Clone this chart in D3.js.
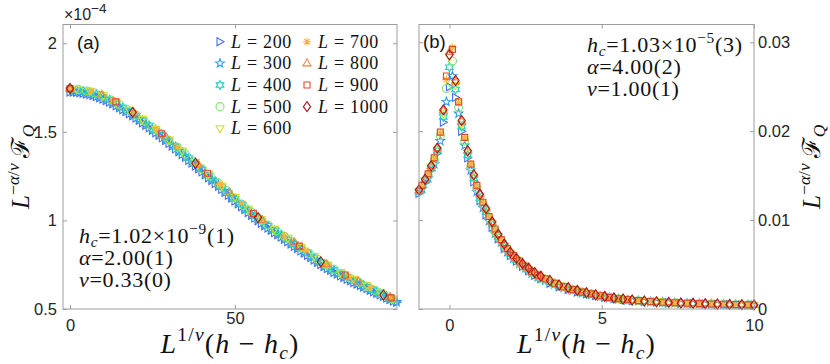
<!DOCTYPE html>
<html>
<head>
<meta charset="utf-8">
<script src="https://cdn.jsdelivr.net/npm/d3@7"></script>
<style>
  body { margin: 0; background: #fff; }
  svg { display: block; }
</style>
</head>
<body>
<svg id="chart" width="830" height="364"></svg>
<script>
// ---- data ----
const Ls = [200, 300, 400, 500, 600, 700, 800, 900, 1000];
const colors = ["#4a6ee8", "#2f9ff3", "#1ecfbe", "#7fe36e", "#d2dd2e", "#f6b43a", "#f5813f", "#de4a2c", "#a3161c"];
const markers = ["triRight", "pentagram", "hexagram", "circle", "triDown", "asterisk", "triUp", "square", "diamond"];

// panel (a): L^{-a/v} F_Q in units of 1e-4
const xa200 = [0,1,2,3,4,5,6,7,8,9,10,11,12,13,14,15,16,17,18,19,20,21,22,23,24,25,26,27,28,29,30,31,32,33,34,35,36,37,38,39,40,41,42,43,44,45,46,47,48,49,50,51,52,53,54,55,56,57,58,59,60,61,62,63,64,65,66,67,68,69,70,71,72,73,74,75,76,77,78,79,80,81,82,83,84,85,86,87,88,89,90,91,92,93,94,95,96,97,98,99];
const ya200 = [1.725,1.724,1.723,1.721,1.718,1.714,1.710,1.705,1.699,1.692,1.685,1.677,1.668,1.658,1.647,1.636,1.625,1.614,1.602,1.590,1.578,1.565,1.551,1.537,1.523,1.509,1.495,1.481,1.466,1.451,1.435,1.420,1.404,1.388,1.372,1.356,1.340,1.324,1.307,1.291,1.274,1.258,1.241,1.225,1.208,1.192,1.175,1.159,1.142,1.126,1.110,1.094,1.077,1.061,1.045,1.029,1.013,0.998,0.984,0.970,0.957,0.944,0.931,0.919,0.906,0.893,0.880,0.867,0.854,0.841,0.828,0.816,0.803,0.790,0.777,0.764,0.751,0.740,0.729,0.718,0.707,0.697,0.687,0.677,0.668,0.659,0.650,0.641,0.633,0.624,0.615,0.606,0.597,0.588,0.580,0.571,0.562,0.553,0.545,0.538];
const xa300 = [1,3,5,7,9,11,13,15,17,19,21,23,25,27,29,31,33,35,37,39,41,43,45,47,49,51,53,55,57,59,61,63,65,67,69,71,73,75,77,79,81,83,85,87,89,91,93,95,97,99];
const ya300 = [1.731,1.728,1.721,1.712,1.699,1.684,1.665,1.643,1.621,1.597,1.572,1.544,1.516,1.488,1.458,1.427,1.395,1.363,1.331,1.298,1.265,1.232,1.199,1.166,1.133,1.101,1.068,1.036,1.005,0.977,0.951,0.926,0.900,0.874,0.848,0.823,0.797,0.771,0.747,0.725,0.703,0.684,0.665,0.647,0.630,0.611,0.592,0.574,0.556,0.540];
const xa400 = [0,2,4,6,8,10,12,14,16,18,20,22,24,26,28,30,32,34,36,38,40,42,44,46,48,50,52,54,56,58,60,62,64,66,68,70,72,74,76,78,80,82,84,86,88,90,92,94,96,98];
const ya400 = [1.738,1.736,1.731,1.723,1.712,1.698,1.681,1.660,1.638,1.615,1.591,1.564,1.536,1.508,1.479,1.448,1.417,1.385,1.353,1.320,1.287,1.254,1.221,1.188,1.155,1.123,1.090,1.058,1.026,0.997,0.970,0.944,0.919,0.893,0.867,0.841,0.816,0.790,0.764,0.742,0.720,0.699,0.680,0.662,0.644,0.625,0.606,0.589,0.570,0.552];
const xa500 = [0,2.5,5,7.5,10,12.5,15,17.5,20,22.5,25,27.5,30,32.5,35,37.5,40,42.5,45,47.5,50,52.5,55,57.5,60,62.5,65,67.5,70,72.5,75,77.5,80,82.5,85,87.5,90,92.5,95,97.5];
const ya500 = [1.742,1.739,1.731,1.719,1.702,1.680,1.653,1.625,1.595,1.561,1.526,1.490,1.452,1.413,1.373,1.332,1.291,1.250,1.209,1.168,1.127,1.086,1.046,1.008,0.974,0.942,0.910,0.878,0.845,0.814,0.781,0.752,0.724,0.698,0.674,0.652,0.628,0.605,0.582,0.559];
const xa600 = [2,6,10,14,18,22,26,30,34,38,42,46,50,54,58,62,66,70,74,78,82,86,90,94,98];
const ya600 = [1.745,1.732,1.707,1.669,1.624,1.573,1.517,1.457,1.394,1.329,1.263,1.197,1.132,1.067,1.006,0.953,0.902,0.850,0.799,0.751,0.708,0.670,0.633,0.596,0.559];
const xa700 = [0,6.5,13,19.5,26,32.5,39,45.5,52,58.5,65,71.5,78,84.5,91,97.5];
const ya700 = [1.745,1.728,1.678,1.604,1.515,1.416,1.311,1.203,1.097,0.997,0.913,0.830,0.749,0.681,0.622,0.562];
const xa800 = [0,9.7,19.4,29.1,38.8,48.5,58.2,67.9,77.6,87.3,97];
const ya800 = [1.746,1.708,1.606,1.471,1.315,1.155,1.002,0.876,0.754,0.656,0.567];
const xa900 = [0,13.9,27.8,41.7,55.6,69.5,83.4,97.3];
const ya900 = [1.744,1.669,1.489,1.266,1.040,0.855,0.692,0.563];
const xa1000 = [0,19,38,57,76,95];
const ya1000 = [1.745,1.610,1.323,1.016,0.767,0.579];

// panel (b)
const xbEven = [-1,-0.8,-0.6,-0.4,-0.2,0,0.2,0.4,0.6,0.8,1,1.2,1.4,1.6,1.8,2,2.2,2.4,2.6,2.8,3,3.3,3.6,3.9,4.2,4.5,4.8,5.1,5.4,5.7,6,6.4,6.8,7.2,7.6,8,8.4,8.8,9.2,9.6,10];
const xbOdd = [-0.9,-0.7,-0.5,-0.3,-0.1,0.1,0.3,0.5,0.7,0.9,1.1,1.3,1.5,1.7,1.9,2.1,2.3,2.5,2.7,2.9,3.15,3.45,3.75,4.05,4.35,4.65,4.95,5.25,5.55,5.85,6.2,6.6,7,7.4,7.8,8.2,8.6,9,9.4,9.8];
const yb200 = [0.0130,0.0142,0.0156,0.0175,0.0210,0.0250,0.0238,0.0200,0.0170,0.0143,0.0122,0.0106,0.0092,0.0079,0.0068,0.0060,0.0054,0.0048,0.0043,0.0038,0.0034,0.0029,0.0025,0.0022,0.0019,0.0017,0.0015,0.00132,0.00117,0.00105,0.00095,0.00085,0.00077,0.00070,0.00065,0.00061,0.00057,0.00053,0.00050,0.00047,0.00044];
const yb300 = [0.0135,0.0147,0.0163,0.0189,0.0233,0.0262,0.0220,0.0184,0.0156,0.0132,0.0114,0.0099,0.0085,0.0075,0.0064,0.0057,0.0051,0.0046,0.0040,0.0036,0.0032,0.0028,0.0024,0.0021,0.0018,0.0016,0.0014,0.00125,0.00111,0.0010,0.0009,0.0008,0.00073,0.00067,0.00063,0.00059,0.00055,0.00051,0.00048,0.00045];
const yb400 = [0.0132,0.0144,0.0158,0.0178,0.0216,0.0272,0.0247,0.0205,0.0173,0.0147,0.0125,0.0109,0.0095,0.0081,0.0070,0.0062,0.0055,0.0050,0.0044,0.0039,0.0035,0.0030,0.0026,0.0023,0.0020,0.00175,0.00155,0.00137,0.00121,0.00108,0.00098,0.00087,0.00079,0.00072,0.00066,0.00062,0.00058,0.00054,0.00051,0.00048,0.00045];
const yb500 = [0.0138,0.0150,0.0167,0.0195,0.0248,0.0279,0.0227,0.0189,0.0160,0.0136,0.0118,0.0102,0.0087,0.0077,0.0066,0.0059,0.0052,0.0047,0.0041,0.0037,0.0033,0.0029,0.0025,0.0022,0.0019,0.0017,0.00146,0.0013,0.00115,0.00104,0.00093,0.00083,0.00075,0.00069,0.00064,0.0006,0.00056,0.00052,0.00049,0.00046];
const yb600 = [0.0133,0.0145,0.0159,0.0179,0.0220,0.0284,0.0252,0.0208,0.0176,0.0149,0.0127,0.0111,0.0096,0.0082,0.0071,0.0063,0.0056,0.0050,0.0045,0.0040,0.0036,0.0031,0.0027,0.0023,0.00205,0.0018,0.00157,0.0014,0.00123,0.0011,0.0010,0.00089,0.0008,0.00073,0.00067,0.00063,0.00059,0.00055,0.00051,0.00048,0.00045];
const yb700 = [0.0139,0.0152,0.0169,0.0198,0.0258,0.0294,0.0232,0.0192,0.0163,0.0138,0.0120,0.0104,0.0089,0.0078,0.0067,0.0060,0.0053,0.0048,0.0042,0.0038,0.0034,0.0029,0.0025,0.0022,0.0019,0.0017,0.00148,0.00131,0.00116,0.00105,0.00094,0.00084,0.00076,0.0007,0.00065,0.00061,0.00057,0.00053,0.0005,0.00046];
const yb800 = [0.0134,0.0146,0.0161,0.0181,0.0223,0.0289,0.0256,0.0211,0.0178,0.0151,0.0129,0.0113,0.0098,0.0084,0.0073,0.0064,0.0057,0.0051,0.0046,0.0041,0.0037,0.0032,0.0027,0.0024,0.0021,0.00183,0.0016,0.00142,0.00125,0.00112,0.00101,0.0009,0.00081,0.00074,0.00068,0.00064,0.0006,0.00056,0.00052,0.00049,0.00046];
const yb900 = [0.0139,0.0152,0.0170,0.0199,0.0262,0.0292,0.0233,0.0193,0.0163,0.0139,0.0120,0.0104,0.0090,0.0078,0.0068,0.0060,0.0054,0.0048,0.0042,0.0038,0.0034,0.0029,0.0025,0.0022,0.0019,0.0017,0.00149,0.00131,0.00116,0.00105,0.00094,0.00084,0.00076,0.0007,0.00065,0.00061,0.00057,0.00053,0.0005,0.00046];
const yb1000 = [0.0134,0.0146,0.0161,0.0181,0.0224,0.0286,0.0257,0.0212,0.0178,0.0151,0.0129,0.0113,0.0098,0.0084,0.0073,0.0064,0.0057,0.0051,0.0046,0.0041,0.0037,0.0032,0.0027,0.0024,0.0021,0.00183,0.0016,0.00142,0.00125,0.00112,0.00101,0.0009,0.00081,0.00074,0.00068,0.00064,0.0006,0.00056,0.00052,0.00049,0.00046];

// axis ticks
const xTicksA = [0, 50], yTicksA = [0.5, 1, 1.5, 2];
const xTicksB = [0, 5, 10], yTicksB = [0, 0.01, 0.02, 0.03];

const setsA = [[xa200,ya200],[xa300,ya300],[xa400,ya400],[xa500,ya500],[xa600,ya600],[xa700,ya700],[xa800,ya800],[xa900,ya900],[xa1000,ya1000]];
const setsB = [[xbEven,yb200],[xbOdd,yb300],[xbEven,yb400],[xbOdd,yb500],[xbEven,yb600],[xbOdd,yb700],[xbEven,yb800],[xbOdd,yb900],[xbEven,yb1000]];

// ---- drawing ----
const svg = d3.select("#chart");
const axisColor = "#9c9c9c";
const SERIF = '"Liberation Serif", "Times New Roman", serif';
const SANS = '"Liberation Sans", Arial, sans-serif';

function star(n, R, r) {
  const p = [];
  for (let k = 0; k < 2 * n; k++) {
    const a = -Math.PI / 2 + k * Math.PI / n, rr = k % 2 ? r : R;
    p.push([(rr * Math.cos(a)).toFixed(2), (rr * Math.sin(a)).toFixed(2)]);
  }
  return "M" + p.join("L") + "Z";
}
function markerPath(type) {
  switch (type) {
    case "triRight": return "M-3,-4L4,0L-3,4Z";
    case "triUp": return "M0,-4.5L4,2.5L-4,2.5Z";
    case "triDown": return "M0,4.5L4,-2.5L-4,-2.5Z";
    case "square": return "M-3,-3H3V3H-3Z";
    case "diamond": return "M0,-5L3.6,0L0,5L-3.6,0Z";
    case "circle": return "M4,0A4,4 0 1,1 -4,0A4,4 0 1,1 4,0Z";
    case "pentagram": return star(5, 4.6, 1.9);
    case "hexagram": return star(6, 4.4, 2.5);
    case "asterisk": return "M-4,0H4M0,-4V4M-2.8,-2.8L2.8,2.8M-2.8,2.8L2.8,-2.8";
  }
}

// math-ish text: parts = [text, flags]  i=italic ^=sup _=sub
function mathText(el, parts, fs, supScale = 0.7) {
  let shift = 0;
  parts.forEach(([t, f = ""]) => {
    const want = f.includes("^") ? -fs * 0.42 : f.includes("_") ? fs * 0.2 : 0;
    const ts = el.append("tspan").text(t).attr("dy", (want - shift).toFixed(2));
    shift = want;
    if (f.includes("i")) ts.attr("font-style", "italic");
    if (want !== 0) ts.attr("font-size", fs * supScale);
  });
  return el;
}
function mtext(fs, family = SERIF) {
  return svg.append("text").attr("font-family", family).attr("font-size", fs).attr("fill", "#111");
}

function panel(box, xDom, yDom, xt, yt, yRight, sets) {
  const w = box.right - box.left, h = box.bottom - box.top;
  const x = d3.scaleLinear().domain(xDom).range([0, w]);
  const y = d3.scaleLinear().domain(yDom).range([h, 0]);
  const g = svg.append("g").attr("transform", `translate(${box.left},${box.top})`);

  // data
  sets.forEach((s, i) => {
    const pts = s[0].map((v, j) => [v, s[1][j]])
      .filter(p => p[0] >= xDom[0] && p[0] <= xDom[1] && p[1] >= yDom[0] && p[1] <= yDom[1]);
    g.append("g").selectAll("path").data(pts).join("path")
      .attr("transform", p => `translate(${x(p[0]).toFixed(2)},${y(p[1]).toFixed(2)})`)
      .attr("d", markerPath(markers[i]))
      .attr("fill", "none").attr("stroke", colors[i]).attr("stroke-width", 1.1);
  });

  // axes (ticks inward, mirrored)
  const fmt = d3.format("~g");
  const bx = g.append("g").attr("transform", `translate(0,${h})`)
    .call(d3.axisBottom(x).tickValues(xt).tickSize(-4).tickSizeOuter(0).tickPadding(10.5).tickFormat(fmt));
  // tick labels sitting above the x label are nudged up, as in the original figure
  bx.selectAll(".tick text").attr("y", d => Math.abs(x(d) - w / 2) < 75 ? 3.5 : 10.5);
  const tx = g.append("g").call(d3.axisTop(x).tickValues(xt).tickSize(-4).tickSizeOuter(0).tickFormat(""));
  const ly = g.append("g")
    .call((yRight ? d3.axisLeft(y).tickFormat("") : d3.axisLeft(y).tickFormat(fmt).tickPadding(6))
      .tickValues(yt).tickSize(-4).tickSizeOuter(0));
  const ry = g.append("g").attr("transform", `translate(${w},0)`)
    .call((yRight ? d3.axisRight(y).tickFormat(fmt).tickPadding(4) : d3.axisRight(y).tickFormat(""))
      .tickValues(yt).tickSize(-4).tickSizeOuter(0));
  [bx, tx, ly, ry].forEach(a => {
    a.select(".domain").remove();
    a.selectAll(".tick line").attr("stroke", axisColor);
    a.selectAll(".tick text").attr("fill", "#262626");
    a.attr("font-size", 16.5).attr("font-family", SANS);
  });
  g.append("rect").attr("width", w).attr("height", h)
    .attr("fill", "none").attr("stroke", axisColor).attr("stroke-width", 1);
  return g;
}

const A = { left: 63, top: 24.5, right: 397, bottom: 309 };
const B = { left: 419, top: 24.5, right: 754, bottom: 309 };

panel(A, [-2.12, 99.1], [0.5, 2.106], xTicksA, yTicksA, false, setsA);
panel(B, [-1, 10], [0, 0.032], xTicksB, yTicksB, true, setsB);

// axis labels
const yLab = [["L", "i"], ["−", "^"], ["α", "^i"], ["/", "^"], ["ν", "^i"], ["\u2009ℱ", ""], ["Q", "_i"]];
const xLab = [["L", "i"], ["1/", "^"], ["ν", "^i"], ["(", ""], ["h", "i"], [" − ", ""], ["h", "i"], ["c", "_i"], [")", ""]];
mathText(mtext(25).attr("text-anchor", "middle")
  .attr("transform", `translate(29,${(A.top + A.bottom) / 2}) rotate(-90)`), yLab, 25);
mathText(mtext(25).attr("text-anchor", "middle")
  .attr("transform", `translate(820,${(B.top + B.bottom) / 2}) rotate(-90)`), yLab, 25);
mathText(mtext(28).attr("text-anchor", "middle").attr("letter-spacing", 1.2)
  .attr("x", (A.left + A.right) / 2).attr("y", 353), xLab, 28);
mathText(mtext(28).attr("text-anchor", "middle").attr("letter-spacing", 1.2)
  .attr("x", (B.left + B.right) / 2).attr("y", 353), xLab, 28);

// exponent
mathText(mtext(16, SANS).attr("fill", "#262626").attr("x", A.left + 1).attr("y", 20),
  [["×10", ""], ["−4", "^"]], 16, 0.85);

// panel tags
mtext(18.5, SANS).attr("x", A.left + 14).attr("y", 49).text("(a)");
mtext(18.5, SANS).attr("x", B.left + 4).attr("y", 48).text("(b)");

// fit parameters
const fitA = [
  [["h", "i"], ["c", "_i"], ["=1.02×10", ""], ["−9", "^"], ["(1)", ""]],
  [["α", "i"], ["=2.00(1)", ""]],
  [["ν", "i"], ["=0.33(0)", ""]]
];
const fitB = [
  [["h", "i"], ["c", "_i"], ["=1.03×10", ""], ["−5", "^"], ["(3)", ""]],
  [["α", "i"], ["=4.00(2)", ""]],
  [["ν", "i"], ["=1.00(1)", ""]]
];
const annFs = 22;
fitA.forEach((p, i) => mathText(mtext(annFs).attr("letter-spacing", 0.7)
  .attr("x", 79).attr("y", 243 + i * 22), p, annFs));
fitB.forEach((p, i) => mathText(mtext(annFs).attr("letter-spacing", 0.7)
  .attr("x", 587).attr("y", 52 + i * 22), p, annFs));

// legend
const legFs = 18;
const leg = svg.append("g");
Ls.forEach((L, i) => {
  const col = i < 5 ? 0 : 1, row = i < 5 ? i : i - 5;
  const cx = col ? 307 : 220, cy = 41.7 + row * 21.65;
  leg.append("path").attr("transform", `translate(${cx},${cy})`).attr("d", markerPath(markers[i]))
    .attr("fill", "none").attr("stroke", colors[i]).attr("stroke-width", 1.1);
  mathText(mtext(legFs).attr("letter-spacing", 0.7)
    .attr("x", cx + 11).attr("y", cy + 6), [["L", "i"], [" = " + L, ""]], legFs);
});
</script>
</body>
</html>
